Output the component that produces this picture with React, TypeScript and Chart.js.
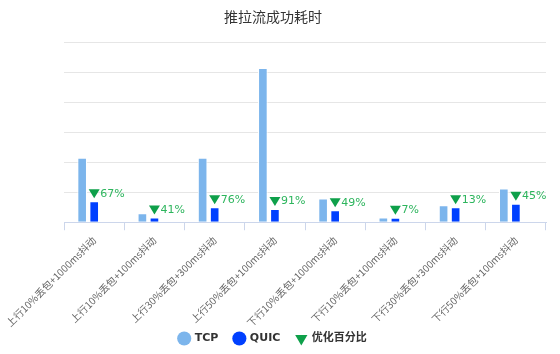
import React, { useEffect, useRef } from 'react';
import { Chart, registerables } from 'chart.js';

Chart.register(...registerables);

const titleText = '推拉流成功耗时';
const categories = [
  '上行10%丢包+1000ms抖动',
  '上行10%丢包+100ms抖动',
  '上行30%丢包+300ms抖动',
  '上行50%丢包+100ms抖动',
  '下行10%丢包+1000ms抖动',
  '下行10%丢包+100ms抖动',
  '下行30%丢包+300ms抖动',
  '下行50%丢包+100ms抖动',
];
const tcpValues = [2160, 300, 2160, 5160, 790, 160, 570, 1130];
const quicValues = [700, 160, 500, 440, 400, 150, 500, 620];
const improvementPct = [67, 41, 76, 91, 49, 7, 13, 45];
const yMax = 6000;
const yStep = 1000;

const FONT = '"DejaVu Sans", "Noto Sans CJK SC", sans-serif';
const TICK_FONT = '"Noto Sans CJK SC", sans-serif';
const TCP_COLOR = '#7cb5ec';
const QUIC_COLOR = '#0040ff';
const TRI_COLOR = '#0ea04a';
const PCT_TEXT = '#2db55d';

const pctPlugin = {
  id: 'pctMarkers',
  afterDatasetsDraw(chart: any) {
    if (!chart.isDatasetVisible(2)) return;
    const ctx = chart.ctx;
    const xs = chart.scales.x;
    const ys = chart.scales.y;
    const data = chart.data.datasets[2].data as number[];
    ctx.save();
    data.forEach((p: number, i: number) => {
      const x = xs.getPixelForValue(i);
      const y = ys.getPixelForValue(quicValues[i]);
      ctx.beginPath();
      ctx.moveTo(x - 5.5, y - 12);
      ctx.lineTo(x + 5.5, y - 12);
      ctx.lineTo(x, y - 3);
      ctx.closePath();
      ctx.fillStyle = TRI_COLOR;
      ctx.fill();
      ctx.font = `11px ${FONT}`;
      ctx.fillStyle = PCT_TEXT;
      ctx.textAlign = 'left';
      ctx.textBaseline = 'middle';
      ctx.fillText(`${p}%`, x + 6, y - 7.5);
    });
    ctx.restore();
  },
};

export default function App() {
  const ref = useRef<HTMLCanvasElement | null>(null);
  useEffect(() => {
    if (!ref.current) return;
    const chart = new Chart(ref.current, {
      type: 'bar',
      data: {
        labels: categories,
        datasets: [
          {
            label: 'TCP',
            data: tcpValues,
            backgroundColor: TCP_COLOR,
            borderColor: '#ffffff',
            borderWidth: 1,
            categoryPercentage: 0.6,
            barPercentage: 0.8,
          },
          {
            label: 'QUIC',
            data: quicValues,
            backgroundColor: QUIC_COLOR,
            borderColor: '#ffffff',
            borderWidth: 1,
            categoryPercentage: 0.6,
            barPercentage: 0.8,
          },
          {
            label: '优化百分比',
            data: improvementPct,
            yAxisID: 'yPct',
            backgroundColor: 'rgba(0,0,0,0)',
            borderWidth: 0,
            categoryPercentage: 0.6,
            barPercentage: 0.8,
          },
        ],
      },
      options: {
        animation: false,
        responsive: false,
        maintainAspectRatio: false,
        layout: { padding: { left: 0, right: 14, bottom: 0 } },
        plugins: {
          title: {
            display: true,
            text: titleText,
            color: '#333333',
            font: { family: FONT, size: 14, weight: 'normal' },
            padding: { top: 10, bottom: 16 },
          },
          legend: {
            position: 'bottom',
            labels: {
              usePointStyle: true,
              boxWidth: 10,
              boxHeight: 10,
              padding: 16,
              color: '#333333',
              font: { family: FONT, size: 11, weight: 'bold' },
              generateLabels: (chart: any) => {
                const items = Chart.defaults.plugins.legend.labels.generateLabels(chart);
                return items.map((it: any, i: number) => {
                  if (i === 2) {
                    return { ...it, pointStyle: 'triangle', rotation: 180, fillStyle: TRI_COLOR, strokeStyle: TRI_COLOR, lineWidth: 0 };
                  }
                  return { ...it, pointStyle: 'circle', lineWidth: 0 };
                });
              },
            },
          },
          tooltip: { enabled: false },
        },
        scales: {
          x: {
            grid: {
              display: true,
              drawOnChartArea: false,
              drawTicks: true,
              tickLength: 8,
              tickColor: '#ccd6eb',
              offset: true,
            },
            border: { display: true, color: '#ccd6eb' },
            ticks: {
              color: '#666666',
              font: { family: TICK_FONT, size: 10 },
              minRotation: 45,
              maxRotation: 45,
              autoSkip: false,
              padding: 4,
            },
            afterFit: (scale: any) => {
              scale.height = scale.height - 16;
              scale._computeLabelArea = () => undefined;
            },
          },
          y: {
            min: 0,
            max: yMax,
            ticks: { display: false, stepSize: yStep },
            grid: { color: '#e6e6e6', drawTicks: false },
            border: { display: false },
            afterFit: (scale: any) => {
              scale.width = 63;
            },
          },
          yPct: {
            display: false,
            min: 0,
            max: 100000,
          },
        },
      },
      plugins: [pctPlugin],
    });
    return () => chart.destroy();
  }, []);
  return (
    <div style={{ position: 'fixed', left: 0, top: 0, width: 560, height: 354, background: '#fff' }}>
      <canvas ref={ref} width={560} height={354} style={{ width: 560, height: 354 }} />
    </div>
  );
}
